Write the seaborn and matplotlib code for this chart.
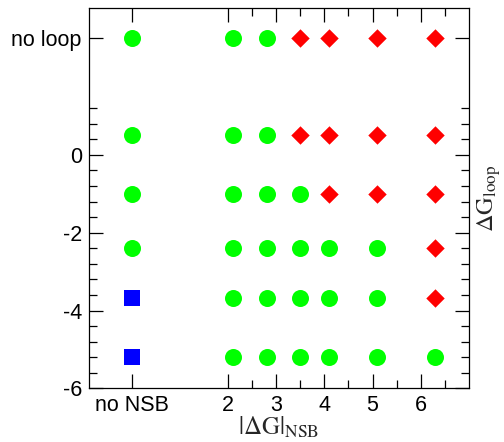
import matplotlib
matplotlib.use("Agg")
import matplotlib.pyplot as plt
import seaborn as sns
import pandas as pd

# ---- data ----
nsb_values = [0, 2.1, 2.8, 3.5, 4.1, 5.1, 6.3]          # 0 == "no NSB"
loop_values = [3.0, 0.5, -1.0, -2.4, -3.68, -5.2]       # 3 == "no loop"
# outcome per (row, column): G = green circle, R = red diamond, B = blue square
outcome_rows = [
    ["G", "G", "G", "R", "R", "R", "R"],
    ["G", "G", "G", "R", "R", "R", "R"],
    ["G", "G", "G", "G", "R", "R", "R"],
    ["G", "G", "G", "G", "G", "G", "R"],
    ["B", "G", "G", "G", "G", "G", "R"],
    ["B", "G", "G", "G", "G", "G", "G"],
]
x_tick_values = [0, 2, 3, 4, 5, 6]
x_tick_labels = ["no NSB", "2", "3", "4", "5", "6"]
y_tick_values = [-6, -4, -2, 0, 3]
y_tick_labels = ["-6", "-4", "-2", "0", "no loop"]

records = []
for yv, row in zip(loop_values, outcome_rows):
    for xv, k in zip(nsb_values, row):
        records.append({"nsb": xv, "loop": yv, "kind": k})
df = pd.DataFrame(records)

sns.set_style("ticks")
plt.rcParams["font.family"] = ["Liberation Sans", "DejaVu Sans"]
plt.rcParams["mathtext.fontset"] = "stix"

fig = plt.figure(figsize=(5.04, 4.42), dpi=100)
ax = fig.add_axes([0.176, 0.1215, 0.754, 0.8597])

styles = {
    "G": dict(color="#00ff00", marker="o", s=150),
    "R": dict(color="#ff0000", marker="D", s=88),
    "B": dict(color="#0000ff", marker="s", s=128),
}
for k, st in styles.items():
    sub = df[df["kind"] == k]
    sns.scatterplot(data=sub, x="nsb", y="loop", ax=ax, color=st["color"],
                    marker=st["marker"], s=st["s"], linewidth=0, legend=False,
                    zorder=3)

ax.set_xlim(-0.9, 7.0)
ax.set_ylim(-6.0, 3.77)
ax.set_xticks(x_tick_values)
ax.set_xticklabels(x_tick_labels)
ax.set_xticks([2.5, 3.5, 4.5, 5.5, 6.5], minor=True)
ax.set_yticks(y_tick_values)
ax.set_yticklabels(y_tick_labels)
ax.set_yticks([-5.6, -5.2, -4.8, -4.4, -3.6, -3.2, -2.8, -2.4, -1.6, -1.2,
               -0.8, -0.4, 0.4, 0.8, 1.2], minor=True)

ax.tick_params(which="both", direction="in", top=True, right=True,
               width=0.9, colors="black", labelsize=15.5)
ax.tick_params(which="major", length=10, pad=5)
ax.tick_params(which="minor", length=5.5)
for sp in ax.spines.values():
    sp.set_linewidth(0.9)
    sp.set_color("black")

ax.set_xlabel(r"$|\Delta\mathrm{G}|_{\mathrm{NSB}}$", fontsize=18, labelpad=-1)
ax.yaxis.set_label_position("right")
ax.set_ylabel(r"$\Delta\mathrm{G}_{\mathrm{loop}}$", fontsize=17.5, rotation=90,
              labelpad=5)

fig.savefig("out.png", dpi=100)
